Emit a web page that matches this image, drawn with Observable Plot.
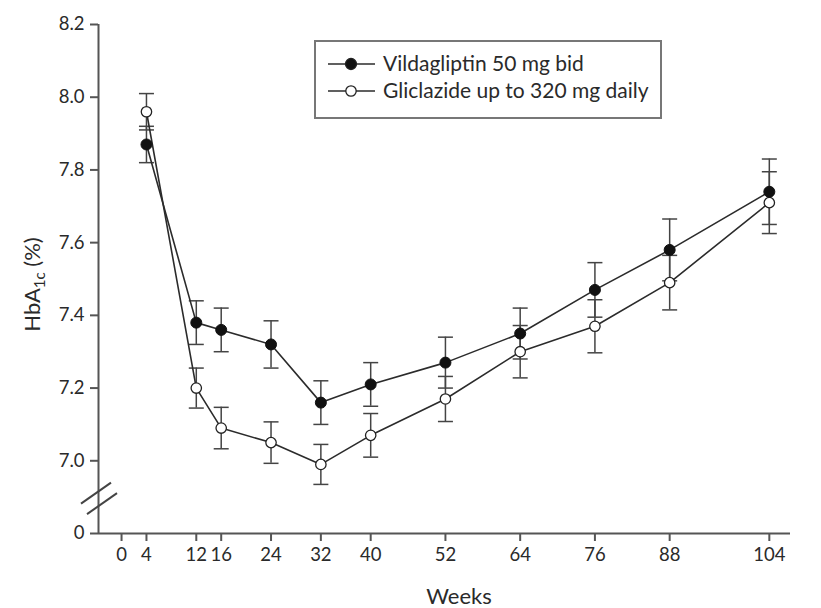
<!DOCTYPE html>
<html><head><meta charset="utf-8">
<script src="https://cdn.jsdelivr.net/npm/d3@7"></script>
<script src="https://cdn.jsdelivr.net/npm/@observablehq/plot@0.6"></script>
<style>
body{margin:0;background:#fff;}
#chart{width:821px;height:608px;}
</style></head><body><div id="chart"></div>
<script>
// ---- data ----
const weeks = [4, 12, 16, 24, 32, 40, 52, 64, 76, 88, 104];
const vildaMean = [7.87, 7.38, 7.36, 7.32, 7.16, 7.21, 7.27, 7.35, 7.47, 7.58, 7.74];
const vildaSE   = [0.05, 0.06, 0.06, 0.065, 0.06, 0.06, 0.07, 0.07, 0.075, 0.085, 0.09];
const glicMean  = [7.96, 7.20, 7.09, 7.05, 6.99, 7.07, 7.17, 7.30, 7.37, 7.49, 7.71];
const glicSE    = [0.05, 0.055, 0.057, 0.057, 0.055, 0.06, 0.062, 0.072, 0.073, 0.075, 0.085];
const seriesNames = ["Vildagliptin 50 mg bid", "Gliclazide up to 320 mg daily"];
const xTicks = [0, 4, 12, 16, 24, 32, 40, 52, 64, 76, 88, 104];
const yTicks = [6.8, 7.0, 7.2, 7.4, 7.6, 7.8, 8.0, 8.2];          // 6.8 stands for the broken-axis "0"
const yTickLabels = ["0", "7.0", "7.2", "7.4", "7.6", "7.8", "8.0", "8.2"];
const xDomain = [-3.7, 107.4];
const yDomain = [6.8, 8.2];
const xLabel = "Weeks";

const rows = [];
weeks.forEach((w, i) => {
  rows.push({series: seriesNames[0], week: w, v: vildaMean[i], se: vildaSE[i]});
  rows.push({series: seriesNames[1], week: w, v: glicMean[i], se: glicSE[i]});
});
const vRows = rows.filter(d => d.series === seriesNames[0]);
const gRows = rows.filter(d => d.series === seriesNames[1]);
const labelOf = new Map(yTicks.map((t, i) => [t.toFixed(1), yTickLabels[i]]));

const FONT = "Lato, 'Open Sans', sans-serif";
const AX = "#555";
const capSymbol = {draw(ctx, size) { const r = Math.sqrt(size / Math.PI); ctx.moveTo(-r, 0); ctx.lineTo(r, 0); }};

const plot = Plot.plot({
  width: 821, height: 608,
  marginLeft: 98, marginRight: 31, marginTop: 24, marginBottom: 75,
  style: {fontFamily: FONT, fontSize: "18px", color: "#333", background: "#fff"},
  x: {domain: xDomain, axis: null},
  y: {domain: yDomain, axis: null},
  marks: [
    Plot.ruleX([xDomain[0]], {stroke: AX, strokeWidth: 2}),
    Plot.ruleY([yDomain[0]], {stroke: AX, strokeWidth: 2}),
    Plot.axisY({ticks: yTicks, tickFormat: d => labelOf.get(d.toFixed(1)), tickSize: 8, tickPadding: 6,
      fontSize: 18.5, color: "#2a2a2a", stroke: AX, strokeWidth: 2, label: null}),
    Plot.axisX({ticks: xTicks, tickSize: 8, tickPadding: 6, fontSize: 18.5, color: "#2a2a2a",
      stroke: AX, strokeWidth: 2, label: null}),
    // error bars
    Plot.ruleX(rows, {x: "week", y1: d => d.v - d.se, y2: d => d.v + d.se, stroke: "#444", strokeWidth: 1.5}),
    Plot.dot(rows, {x: "week", y: d => d.v + d.se, symbol: capSymbol, r: 7.5, stroke: "#444", strokeWidth: 1.5}),
    Plot.dot(rows, {x: "week", y: d => d.v - d.se, symbol: capSymbol, r: 7.5, stroke: "#444", strokeWidth: 1.5}),
    // lines
    Plot.line(rows, {x: "week", y: "v", z: "series", stroke: "#2b2b2b", strokeWidth: 1.6}),
    // markers
    Plot.dot(gRows, {x: "week", y: "v", r: 5.2, fill: "#fff", stroke: "#222", strokeWidth: 1.3}),
    Plot.dot(vRows, {x: "week", y: "v", r: 5.5, fill: "#111", stroke: "#111", strokeWidth: 1})
  ]
});
document.getElementById("chart").appendChild(plot);

// ---- decorations: axis break, axis titles, legend ----
const svg = d3.select(plot);
const xs = plot.scale("x"), ys = plot.scale("y");
const ax = xs.apply(xDomain[0]);
const yb = (ys.apply(yDomain[0]) + ys.apply(yTicks[1])) / 2;
const brk = svg.append("g").attr("stroke", "#444").attr("stroke-width", 2);
[0, 1].forEach(i => {
  const cx = ax - 2 + 6 * i, cy = yb - 3.5 + 10.5 * i;
  brk.append("line").attr("x1", cx - 15).attr("y1", cy + 10.5).attr("x2", cx + 15).attr("y2", cy - 10.5);
});

// y title with subscript
const yt = svg.append("text")
  .attr("transform", `translate(40,${(ys.apply(yDomain[0]) + ys.apply(yDomain[1])) / 2 + 6}) rotate(-90)`)
  .attr("text-anchor", "middle").attr("font-family", FONT).attr("font-size", 22).attr("fill", "#2a2a2a");
yt.append("tspan").text("HbA");
yt.append("tspan").attr("font-size", 15).attr("dy", 5).text("1c");
yt.append("tspan").attr("dy", -5).text(" (%)");

// x title
svg.append("text").attr("x", 459).attr("y", 604).attr("text-anchor", "middle")
  .attr("font-family", FONT).attr("font-size", 22).attr("fill", "#2a2a2a").text(xLabel);

// legend box
const lg = svg.append("g");
lg.append("rect").attr("x", 315).attr("y", 41).attr("width", 346).attr("height", 77)
  .attr("fill", "#fff").attr("stroke", "#777").attr("stroke-width", 2);
seriesNames.forEach((name, i) => {
  const cy = 64 + i * 27;
  lg.append("line").attr("x1", 328).attr("x2", 375).attr("y1", cy).attr("y2", cy)
    .attr("stroke", "#2b2b2b").attr("stroke-width", 1.6);
  lg.append("circle").attr("cx", 351).attr("cy", cy).attr("r", i === 0 ? 5.5 : 5.2)
    .attr("fill", i === 0 ? "#111" : "#fff").attr("stroke", "#222").attr("stroke-width", 1.3);
  lg.append("text").attr("x", 383).attr("y", cy + 7).attr("text-anchor", "start").attr("font-family", FONT)
    .attr("font-size", 21).attr("fill", "#2a2a2a").text(name);
});
</script>
</body></html>
